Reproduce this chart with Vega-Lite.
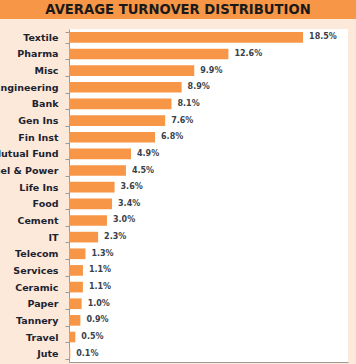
{
  "$schema": "https://vega.github.io/schema/vega-lite/v6.json",
  "autosize": {"type": "none"},
  "padding": {"left": 0, "top": 0, "right": 356, "bottom": 364},
  "background": "#fde9d9",
  "bounds": "flush",
  "spacing": 10,
  "config": {"view": {"stroke": null}, "font": "DejaVu Sans"},
  "datasets": {
    "head": [{"t": "AVERAGE TURNOVER DISTRIBUTION"}],
    "sectors": [
      {"sector": "Textile", "v": 0.185},
      {"sector": "Pharma", "v": 0.126},
      {"sector": "Misc", "v": 0.099},
      {"sector": "Engineering", "v": 0.089},
      {"sector": "Bank", "v": 0.081},
      {"sector": "Gen Ins", "v": 0.076},
      {"sector": "Fin Inst", "v": 0.068},
      {"sector": "Mutual Fund", "v": 0.049},
      {"sector": "Fuel & Power", "v": 0.045},
      {"sector": "Life Ins", "v": 0.036},
      {"sector": "Food", "v": 0.034},
      {"sector": "Cement", "v": 0.030},
      {"sector": "IT", "v": 0.023},
      {"sector": "Telecom", "v": 0.013},
      {"sector": "Services", "v": 0.011},
      {"sector": "Ceramic", "v": 0.011},
      {"sector": "Paper", "v": 0.010},
      {"sector": "Tannery", "v": 0.009},
      {"sector": "Travel", "v": 0.005},
      {"sector": "Jute", "v": 0.001}
    ]
  },
  "vconcat": [
    {
      "width": 356,
      "height": 19,
      "view": {"fill": "#f79646", "stroke": null},
      "data": {"name": "head"},
      "mark": {"type": "text", "font": "DejaVu Sans", "fontWeight": "bold", "fontSize": 13.2, "color": "#1a1a1a"},
      "encoding": {"text": {"field": "t"}}
    },
    {
      "bounds": "flush",
      "spacing": 68,
      "hconcat": [
        {
          "width": 1,
          "height": 333,
          "data": {"values": []},
          "mark": "point",
          "encoding": {}
        },
        {
          "width": 279,
          "height": 333,
          "view": {"fill": "white", "stroke": null},
          "data": {"name": "sectors"},
          "encoding": {
            "y": {
              "field": "sector",
              "type": "nominal",
              "sort": null,
              "scale": {"paddingInner": 0.36, "paddingOuter": 0.18},
              "axis": {
                "title": null,
                "labelFont": "DejaVu Sans",
                "labelFontWeight": "bold",
                "labelFontSize": 9.5,
                "labelColor": "#1c2330",
                "labelPadding": 7,
                "labelLimit": 0,
                "domainColor": "#9a9a9a",
                "tickColor": "#9a9a9a",
                "tickSize": 4,
                "tickBand": "extent"
              }
            },
            "x": {
              "field": "v",
              "type": "quantitative",
              "scale": {"domain": [0, 0.2205], "nice": false, "zero": true},
              "axis": {"title": null, "labels": false, "ticks": false, "grid": false, "domainColor": "#9a9a9a"}
            }
          },
          "layer": [
            {"mark": {"type": "bar", "color": "#f79646"}},
            {
              "mark": {"type": "text", "align": "left", "baseline": "middle", "dx": 6, "font": "DejaVu Sans", "fontWeight": "bold", "fontSize": 8, "color": "#3a3f4a"},
              "encoding": {"text": {"field": "v", "type": "quantitative", "format": ".1%"}}
            }
          ]
        }
      ]
    }
  ]
}
